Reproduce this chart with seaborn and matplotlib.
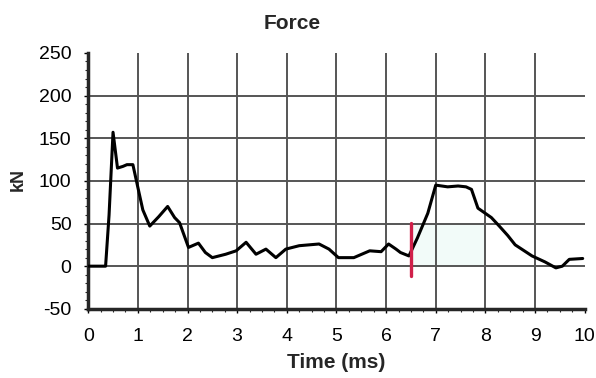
import numpy as np
import pandas as pd
import seaborn as sns
import matplotlib.pyplot as plt
from matplotlib.ticker import MultipleLocator

# force trace
time_ms = [0.0, 0.2, 0.35, 0.42, 0.5, 0.59, 0.7, 0.78, 0.9, 0.99, 1.1, 1.24, 1.42,
           1.6, 1.74, 1.84, 2.02, 2.22, 2.36, 2.5, 2.77, 2.98, 3.18, 3.38, 3.58,
           3.78, 3.98, 4.25, 4.65, 4.85, 5.04, 5.35, 5.67, 5.9, 6.05, 6.2, 6.29,
           6.46, 6.63, 6.84, 7.0, 7.24, 7.45, 7.61, 7.72, 7.85, 8.12, 8.28, 8.45,
           8.6, 8.94, 9.2, 9.42, 9.55, 9.69, 9.96]
force_kn = [0, 0, 0, 60, 157, 115, 117, 119, 119, 95, 66, 47, 58,
            70, 57, 51, 22, 27, 16, 10, 14, 18, 28, 14, 20,
            10, 20, 24, 26, 20, 10, 10, 18, 17, 26, 20, 16,
            12, 33, 62, 95, 93, 94, 93, 90, 68, 57, 47, 36,
            25, 12, 5, -2, 0, 8, 9]

marker_t = [6.5, 6.5]
marker_f = [-11, 51]

df = pd.DataFrame({"time": time_ms, "force": force_kn})

sns.set_style("white")
plt.rcParams["font.family"] = ["Liberation Sans", "DejaVu Sans"]
plt.rcParams["axes.unicode_minus"] = False

fig, ax = plt.subplots(figsize=(5.96, 3.78), dpi=100)
fig.subplots_adjust(left=0.148, right=0.981, top=0.86, bottom=0.183)

# very faint shaded band
ax.fill_between([6.55, 8.0], 0, 50, color="#e4f7f2", alpha=0.45, lw=0, zorder=0)

for xv in range(1, 10):
    ax.axvline(xv, color="#555555", lw=1.4, zorder=1)
for yv in [0, 50, 100, 150, 200]:
    ax.axhline(yv, color="#555555", lw=1.4, zorder=1)

sns.lineplot(data=df, x="time", y="force", ax=ax, color="black", lw=2.2,
             estimator=None, zorder=3)
ax.plot(marker_t, marker_f, color="#d0204a", lw=2.4, zorder=4)

ax.set_xlim(0, 10)
ax.set_ylim(-50, 250)
ax.xaxis.set_major_locator(MultipleLocator(1))
ax.xaxis.set_minor_locator(MultipleLocator(0.25))
ax.yaxis.set_major_locator(MultipleLocator(50))
ax.yaxis.set_minor_locator(MultipleLocator(10))
ax.tick_params(axis="both", which="major", direction="out", length=3,
               width=1, labelsize=14, colors="black")
ax.tick_params(axis="x", which="major", pad=11)
ax.tick_params(axis="y", which="major", pad=9)
ax.tick_params(axis="both", which="minor", direction="out", length=2, width=0.8)
ax.tick_params(left=True, bottom=True)
ax.tick_params(which="minor", left=True, bottom=True)

ax.spines["top"].set_visible(False)
ax.spines["right"].set_visible(False)
ax.spines["left"].set_linewidth(2.5)
ax.spines["bottom"].set_linewidth(2.5)

fig.text(0.49, 0.937, "Force", fontsize=15, fontweight="bold",
         ha="center", va="center")
ax.set_xlabel("Time (ms)", fontsize=15, fontweight="bold")
ax.set_ylabel("kN", fontsize=13, fontweight="bold")
ax.xaxis.set_label_coords(0.5, -0.172)
ax.yaxis.set_label_coords(-0.123, 0.504)

plt.savefig("out.png", dpi=100)
